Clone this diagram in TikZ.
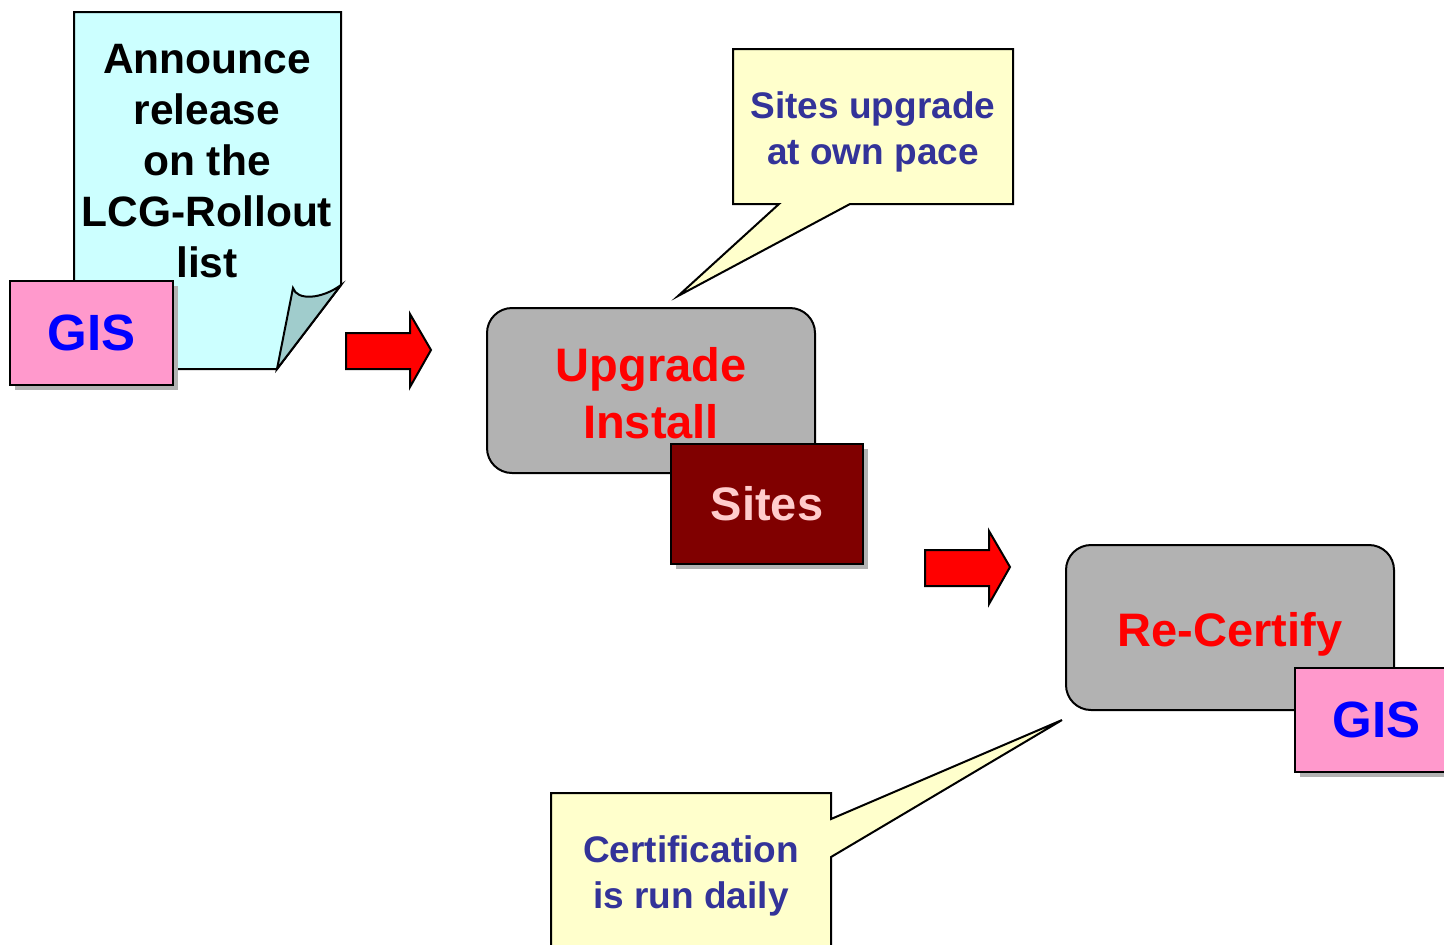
\documentclass[tikz,border=0pt]{standalone}
\usepackage{fontspec}
\setmainfont{Liberation Sans}
\usetikzlibrary{shadows}
\definecolor{pagecyan}{HTML}{CCFFFF}
\definecolor{foldteal}{HTML}{A0CCCC}
\definecolor{gispink}{HTML}{FF99CC}
\definecolor{noteyellow}{HTML}{FFFFCC}
\definecolor{notenavy}{HTML}{333399}
\definecolor{boxgray}{HTML}{B2B2B2}
\definecolor{sitesred}{HTML}{800000}
\definecolor{sitestext}{HTML}{FFCCCC}
\begin{document}
\begin{tikzpicture}[x=0.5pt,y=-0.5pt,
  outline/.style={draw=black,line width=1pt,line join=miter},
  shadowed/.style={drop shadow={shadow xshift=2.5pt,shadow yshift=-2.5pt,fill=boxgray,opacity=1}},
  gisbox/.style={outline,shadowed,fill=gispink,minimum width=81.5pt,minimum height=52pt,
    inner sep=0pt,text=blue,font=\bfseries\fontsize{25.5}{30}\selectfont},
  sitesbox/.style={outline,shadowed,fill=sitesred,minimum width=96pt,minimum height=60pt,
    inner sep=0pt,text=sitestext,font=\bfseries\fontsize{23.5}{28}\selectfont},
  stagebox/.style={outline,fill=boxgray,rounded corners=12.5pt,minimum width=164pt,
    minimum height=82.5pt,inner sep=0pt},
  stagetext/.style={align=center,text=red,inner sep=0pt,
    font=\bfseries\fontsize{23.5}{28.5}\selectfont},
  notetext/.style={align=center,text=notenavy,inner sep=0pt,
    font=\bfseries\fontsize{18.5}{23}\selectfont},
  blockarrow/.style={outline,fill=red,line width=1pt}
]
\useasboundingbox (0,0) rectangle (1444,944);
\clip (0,0) rectangle (1444,944);

% announcement sheet with a curled corner
\draw[outline,fill=pagecyan] (74,12) -- (341,12) -- (341,285) -- (277,369) -- (74,369) -- cycle;
\draw[outline,fill=foldteal] (277,369) -- (293,288) .. controls (297,301) and (322,299) .. (341,285) -- cycle;
\node[align=center,inner sep=0pt,font=\bfseries\fontsize{21.25}{25.5}\selectfont]
  (announce) at (207,161) {Announce\\release\\on the\\LCG-Rollout\\list};
\node[gisbox] (gisL) at (91.5,333) {\raisebox{-1pt}{GIS}};

% block arrows between the stages
\draw[blockarrow] (346,333) -- (410,333) -- (410,314) -- (431,350) -- (410,387) -- (410,369) -- (346,369) -- cycle;
\begin{scope}[shift={(579,217)}]
\draw[blockarrow] (346,333) -- (410,333) -- (410,314) -- (431,350) -- (410,387) -- (410,369) -- (346,369) -- cycle;
\end{scope}

% upgrade stage
\node[stagebox] (upgrade) at (651,390.5) {};
\node[stagetext] (upgradetext) at (651,393) {Upgrade\\Install};
\node[sitesbox] (sites) at (767,504) {Sites};

% re-certification stage
\node[stagebox] (recert) at (1230,627.5) {};
\node[stagetext] (recerttext) at (1230,634) {Re-Certify};
\node[gisbox] (gisR) at (1376.5,719.5) {\raisebox{-1pt}{GIS}};

% callouts
\draw[outline,fill=noteyellow] (733,49) -- (1013,49) -- (1013,204) -- (850,204) -- (678,296) -- (779,204) -- (733,204) -- cycle;
\node[notetext] (pace) at (873,132) {Sites upgrade\\at own pace};

\draw[outline,fill=noteyellow] (551,793) -- (831,793) -- (831,819) -- (1062,720) -- (831,857) -- (831,960) -- (551,960) -- cycle;
\node[notetext] (daily) at (691,876) {Certification\\is run daily};
\end{tikzpicture}
\end{document}
